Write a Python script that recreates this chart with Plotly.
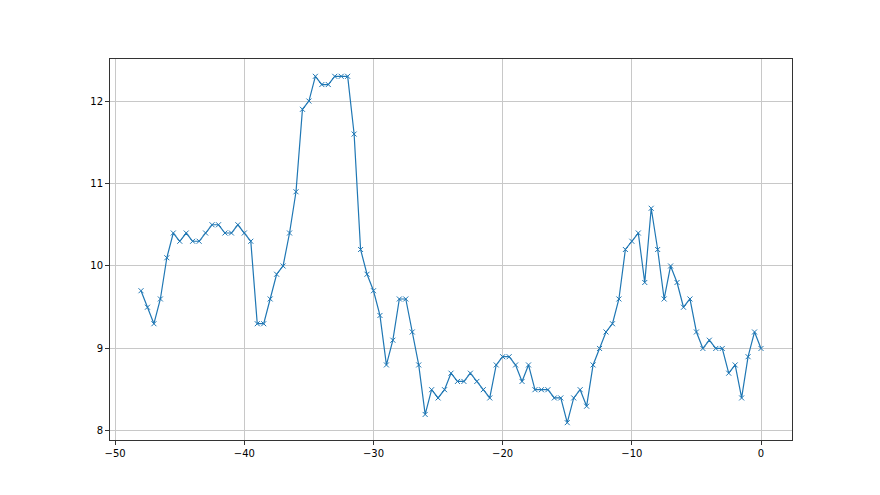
import plotly.graph_objects as go

x_values = [-48 + 0.5 * i for i in range(97)]
y_values = [
    9.7, 9.5, 9.3, 9.6, 10.1, 10.4, 10.3, 10.4, 10.3, 10.3,
    10.4, 10.5, 10.5, 10.4, 10.4, 10.5, 10.4, 10.3, 9.3, 9.3,
    9.6, 9.9, 10.0, 10.4, 10.9, 11.9, 12.0, 12.3, 12.2, 12.2,
    12.3, 12.3, 12.3, 11.6, 10.2, 9.9, 9.7, 9.4, 8.8, 9.1,
    9.6, 9.6, 9.2, 8.8, 8.2, 8.5, 8.4, 8.5, 8.7, 8.6,
    8.6, 8.7, 8.6, 8.5, 8.4, 8.8, 8.9, 8.9, 8.8, 8.6,
    8.8, 8.5, 8.5, 8.5, 8.4, 8.4, 8.1, 8.4, 8.5, 8.3,
    8.8, 9.0, 9.2, 9.3, 9.6, 10.2, 10.3, 10.4, 9.8, 10.7,
    10.2, 9.6, 10.0, 9.8, 9.5, 9.6, 9.2, 9.0, 9.1, 9.0,
    9.0, 8.7, 8.8, 8.4, 8.9, 9.2, 9.0,
]
x_ticks = [-50, -40, -30, -20, -10, 0]
y_ticks = [8, 9, 10, 11, 12]

fig = go.Figure()
fig.add_trace(go.Scatter(
    x=x_values, y=y_values, mode="lines+markers",
    line=dict(color="#1f77b4", width=1.2),
    marker=dict(symbol="x-thin", size=5, color="#1f77b4",
                line=dict(color="#1f77b4", width=1)),
    showlegend=False,
))

axis_common = dict(
    showline=True, linecolor="#333333", linewidth=1, mirror=True,
    ticks="outside", ticklen=4, tickwidth=1, tickcolor="#333333",
    showgrid=True, gridcolor="#c8c8c8", gridwidth=1,
    zeroline=False,
    tickfont=dict(family="DejaVu Sans", size=10, color="black"),
)

fig.update_layout(
    width=880, height=495, autosize=False,
    margin=dict(l=102, r=96, t=51, b=63),
    paper_bgcolor="white", plot_bgcolor="white",
    xaxis=dict(range=[-50.4, 2.4], tickvals=x_ticks, **axis_common),
    yaxis=dict(range=[7.89, 12.51], tickvals=y_ticks, **axis_common),
)

fig.write_html("out.html")
